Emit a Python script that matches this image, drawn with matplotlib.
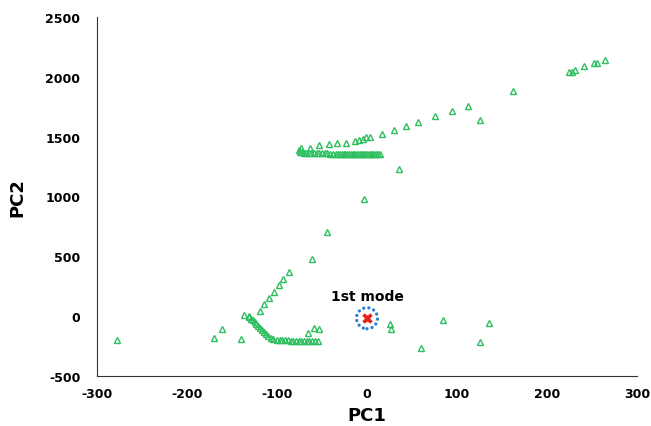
import matplotlib
matplotlib.use("Agg")
import matplotlib.pyplot as plt

plt.rcParams['font.family'] = ['DejaVu Sans']
plt.rcParams['axes.unicode_minus'] = False

# upper right branch
pc1_a = [43, 57, 75, 94, 112, 126, 162, 224, 228, 231, 241, 252, 255, 264]
pc2_a = [1590, 1623, 1671, 1718, 1757, 1637, 1885, 2044, 2044, 2058, 2086, 2111, 2111, 2139]

# upper row (sparse top line)
pc1_b = [-73, -63, -53, -42, -33, -23, -13, -9, -5, -1, 3, 17, 30, 35]
pc2_b = [1409, 1409, 1431, 1437, 1445, 1451, 1465, 1473, 1484, 1493, 1501, 1520, 1556, 1228]

# upper dense row
pc1_c = [-76, -74, -72, -70, -68, -65, -62, -59, -56, -53, -50, -47, -44, -41, -38,
         -35, -32, -30, -28, -26, -24, -22, -20, -18, -16, -14, -12, -10, -8, -6,
         -4, -2, 0, 2, 4, 6, 8, 10, 12, 14]
pc2_c = [1385, 1375, 1368, 1365, 1363, 1362, 1362, 1361, 1361, 1360, 1360, 1360, 1360,
         1359, 1359, 1359, 1358, 1358, 1358, 1358, 1357, 1357, 1357, 1357, 1357, 1356,
         1356, 1356, 1356, 1356, 1356, 1356, 1355, 1355, 1355, 1355, 1355, 1355, 1355, 1355]

# middle diagonal
pc1_d = [-3, -44, -61, -87, -93, -98, -103, -109, -114, -119, -137, -131]
pc2_d = [977, 702, 476, 370, 309, 259, 203, 148, 98, 43, 10, 0]

# lower left curve and flat row
pc1_e = [-131, -129, -127, -125, -123, -121, -119, -117, -115, -112, -110, -107, -104,
         -100, -97, -94, -91, -88, -85, -82, -79, -76, -73, -70, -67, -64, -61, -58, -55]
pc2_e = [-5, -20, -35, -50, -65, -80, -95, -115, -130, -150, -165, -180, -192,
         -198, -200, -201, -202, -203, -204, -204, -205, -206, -206, -207, -208, -208,
         -209, -210, -211]

# scattered points
pc1_f = [-278, -170, -161, -140, -66, -59, -53, 25, 27, 60, 84, 125, 136]
pc2_f = [-198, -184, -103, -192, -142, -95, -109, -67, -109, -269, -31, -213, -53]

mode_pc1 = [0]
mode_pc2 = [-17]

fig = plt.figure(figsize=(6.51, 4.27), dpi=100)
ax = fig.add_axes([0.149, 0.117, 0.8295, 0.841])

green = '#2dbf5f'
for xs, ys in [(pc1_a, pc2_a), (pc1_b, pc2_b), (pc1_c, pc2_c),
               (pc1_d, pc2_d), (pc1_e, pc2_e), (pc1_f, pc2_f), (mode_pc1, mode_pc2)]:
    ax.plot(xs, ys, linestyle='none', marker='^', markersize=4.5,
            markerfacecolor='none', markeredgecolor=green, markeredgewidth=1)

ax.plot(mode_pc1, mode_pc2, linestyle='none', marker='x', markersize=6,
        markeredgecolor='#e8201c', markeredgewidth=2.5)
ring = ax.scatter(mode_pc1, mode_pc2, s=230, facecolors='none', edgecolors='#2a7fd4',
                  linewidths=2.4, linestyles=(0, (0.01, 1.55)))
ring.set_capstyle('round')
ax.text(0, 169, '1st mode', ha='center', va='center', fontsize=10, fontweight='bold')

ax.set_xlim(-300, 300)
ax.set_ylim(-500, 2500)
ax.set_xticks(range(-300, 301, 100))
ax.set_yticks(range(-500, 2501, 500))
ax.tick_params(length=0, labelsize=9)
ax.tick_params(axis='y', pad=12)
ax.tick_params(axis='x', pad=8)
for lab in ax.get_xticklabels() + ax.get_yticklabels():
    lab.set_fontweight('bold')
ax.spines['top'].set_visible(False)
ax.spines['right'].set_visible(False)
ax.spines['left'].set_color('#333333')
ax.spines['bottom'].set_color('#333333')

ax.set_xlabel('PC1', fontsize=13, fontweight='bold', labelpad=4)
ax.set_ylabel('PC2', fontsize=13, fontweight='bold', labelpad=14)

fig.savefig('out.png', dpi=100)
